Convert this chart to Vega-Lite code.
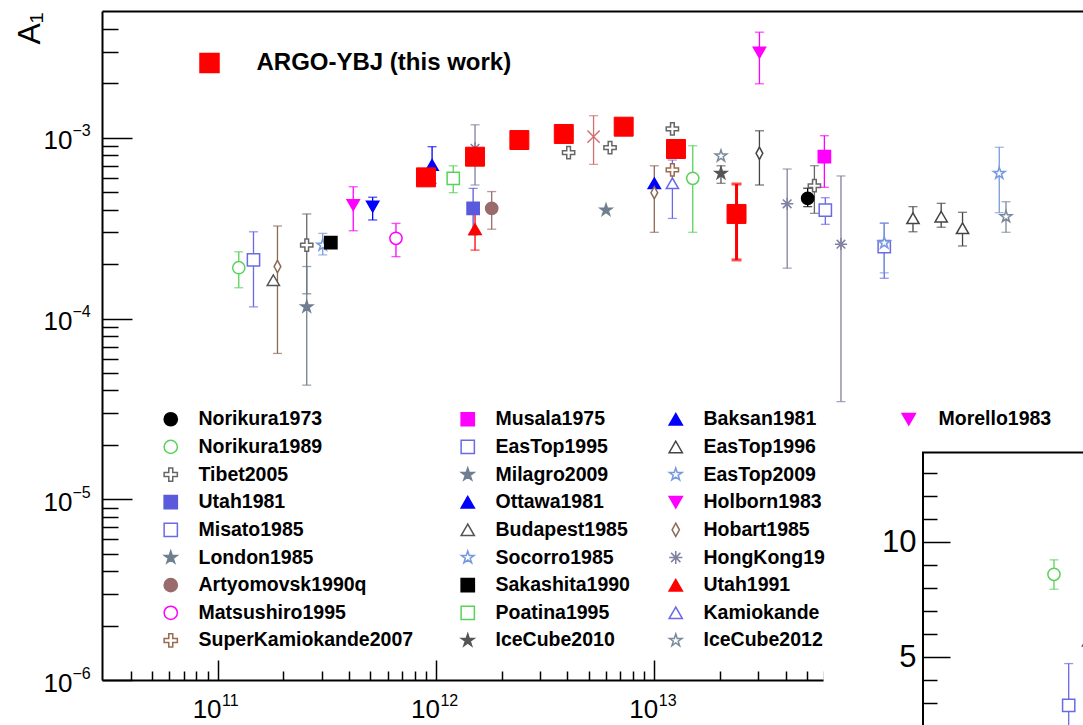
{
  "$schema": "https://vega.github.io/schema/vega-lite/v6.json",
  "width": 981,
  "height": 669,
  "autosize": {"type": "none"},
  "padding": {"left": 102, "top": 11, "right": 0, "bottom": 45},
  "background": "white",
  "config": {
    "view": {"stroke": null},
    "font": "Liberation Sans",
    "axis": {"grid": false, "labelColor": "#000", "tickColor": "#000", "domainColor": "#000", "labelFont": "Liberation Sans", "labelFlush": false, "labelOverlap": false, "labelBound": false},
    "legend": {"labelFont": "Liberation Sans", "labelColor": "#000", "symbolStrokeWidth": 1.5, "padding": 0}
  },
  "datasets": {
    "main": [
      {"exp": "ARGO-YBJ (this work)", "E": 9.0e11, "A": 6.04e-4},
      {"exp": "ARGO-YBJ (this work)", "E": 1.51e12, "A": 7.86e-4},
      {"exp": "ARGO-YBJ (this work)", "E": 2.41e12, "A": 9.72e-4},
      {"exp": "ARGO-YBJ (this work)", "E": 3.85e12, "A": 1.05e-3},
      {"exp": "ARGO-YBJ (this work)", "E": 7.24e12, "A": 1.152e-3},
      {"exp": "ARGO-YBJ (this work)", "E": 1.257e13, "A": 8.67e-4},
      {"exp": "ARGO-YBJ (this work)", "E": 2.38e13, "A": 3.79e-4, "lo": 2.11e-4, "hi": 5.55e-4},
      {"exp": "Norikura1973", "E": 5.04e13, "A": 4.62e-4, "lo": 4.16e-4, "hi": 5.26e-4},
      {"exp": "Norikura1989", "E": 1.25e11, "A": 1.91e-4, "lo": 1.48e-4, "hi": 2.34e-4},
      {"exp": "Norikura1989", "E": 1.5e13, "A": 5.97e-4, "lo": 3.0e-4, "hi": 9.04e-4},
      {"exp": "Tibet2005", "E": 2.56e11, "A": 2.55e-4, "lo": 1.37e-4, "hi": 3.79e-4},
      {"exp": "Tibet2005", "E": 4.05e12, "A": 8.27e-4},
      {"exp": "Tibet2005", "E": 6.27e12, "A": 8.82e-4},
      {"exp": "Tibet2005", "E": 1.21e13, "A": 1.12e-3},
      {"exp": "Tibet2005", "E": 5.41e13, "A": 5.43e-4, "lo": 3.82e-4, "hi": 7.01e-4},
      {"exp": "Utah1981", "E": 1.48e12, "A": 4.07e-4, "lo": 2.9e-4, "hi": 5.25e-4},
      {"exp": "Misato1985", "E": 1.46e11, "A": 2.11e-4, "lo": 1.16e-4, "hi": 3.02e-4},
      {"exp": "London1985", "E": 2.56e11, "A": 1.16e-4, "lo": 4.28e-5, "hi": 1.94e-4},
      {"exp": "Artyomovsk1990q", "E": 1.8e12, "A": 4.07e-4, "lo": 3.12e-4, "hi": 5.04e-4},
      {"exp": "Matsushiro1995", "E": 6.56e11, "A": 2.78e-4, "lo": 2.2e-4, "hi": 3.36e-4},
      {"exp": "SuperKamiokande2007", "E": 1.21e13, "A": 6.64e-4},
      {"exp": "Musala1975", "E": 6.01e13, "A": 7.86e-4, "lo": 5.32e-4, "hi": 1.027e-3},
      {"exp": "EasTop1995", "E": 6.07e13, "A": 3.98e-4, "lo": 3.32e-4, "hi": 4.66e-4},
      {"exp": "EasTop1995", "E": 1.13e14, "A": 2.5e-4, "lo": 1.67e-4, "hi": 3.37e-4},
      {"exp": "Milagro2009", "E": 6.01e12, "A": 3.98e-4},
      {"exp": "Ottawa1981", "E": 9.6e11, "A": 7.07e-4, "lo": 5.6e-4, "hi": 8.93e-4},
      {"exp": "Budapest1985", "E": 1.8e11, "A": 1.63e-4},
      {"exp": "Socorro1985", "E": 3.03e11, "A": 2.55e-4, "lo": 2.25e-4, "hi": 2.96e-4},
      {"exp": "Sakashita1990", "E": 3.3e11, "A": 2.63e-4},
      {"exp": "Poatina1995", "E": 1.2e12, "A": 5.97e-4, "lo": 4.97e-4, "hi": 7.0e-4},
      {"exp": "IceCube2010", "E": 2.02e13, "A": 6.36e-4, "lo": 5.6e-4, "hi": 7.0e-4},
      {"exp": "Baksan1981", "E": 1.0e13, "A": 5.6e-4},
      {"exp": "EasTop1996", "E": 1.53e14, "A": 3.59e-4, "lo": 3.02e-4, "hi": 4.16e-4},
      {"exp": "EasTop1996", "E": 2.06e14, "A": 3.66e-4, "lo": 3.2e-4, "hi": 4.34e-4},
      {"exp": "EasTop1996", "E": 2.58e14, "A": 3.16e-4, "lo": 2.52e-4, "hi": 3.87e-4},
      {"exp": "EasTop2009", "E": 1.13e14, "A": 2.62e-4, "lo": 1.79e-4, "hi": 3.37e-4},
      {"exp": "EasTop2009", "E": 3.8e14, "A": 6.36e-4, "lo": 3.85e-4, "hi": 8.86e-4},
      {"exp": "Holborn1983", "E": 4.18e11, "A": 4.25e-4, "lo": 3.06e-4, "hi": 5.36e-4},
      {"exp": "Hobart1985", "E": 1.88e11, "A": 1.94e-4, "lo": 6.41e-5, "hi": 3.25e-4},
      {"exp": "Hobart1985", "E": 1.0e13, "A": 4.97e-4, "lo": 3.0e-4, "hi": 7.0e-4},
      {"exp": "HongKong1987", "E": 1.51e12, "A": 8.75e-4, "lo": 5.48e-4, "hi": 1.18e-3},
      {"exp": "HongKong1987", "E": 4.06e13, "A": 4.31e-4, "lo": 1.9e-4, "hi": 6.72e-4},
      {"exp": "HongKong1987", "E": 7.16e13, "A": 2.58e-4, "lo": 3.47e-5, "hi": 6.15e-4},
      {"exp": "Utah1991", "E": 1.51e12, "A": 3.12e-4, "lo": 2.39e-4, "hi": 3.98e-4},
      {"exp": "Kamiokande1997", "E": 1.21e13, "A": 5.6e-4, "lo": 3.58e-4, "hi": 7.53e-4},
      {"exp": "IceCube2012", "E": 2.02e13, "A": 7.93e-4},
      {"exp": "IceCube2012", "E": 4.08e14, "A": 3.66e-4, "lo": 3.0e-4, "hi": 4.43e-4},
      {"exp": "Morello1983", "E": 3.03e13, "A": 2.96e-3, "lo": 1.99e-3, "hi": 3.84e-3},
      {"exp": "Banahaw1986", "E": 5.27e12, "A": 1.014e-3, "lo": 7.13e-4, "hi": 1.325e-3},
      {"exp": "Bolivia1985", "E": 5.13e11, "A": 4.16e-4, "lo": 3.51e-4, "hi": 4.69e-4},
      {"exp": "Liapootah1995", "E": 3.03e13, "A": 8.21e-4, "lo": 5.48e-4, "hi": 1.094e-3}
    ],
    "inset": [
      {"exp": "Norikura1989", "E": 1.25e11, "V": 8.59, "lo": 7.94, "hi": 9.22},
      {"exp": "Misato1985", "E": 1.46e11, "V": 2.88, "lo": 1.0, "hi": 4.7},
      {"exp": "Budapest1985", "E": 1.8e11, "V": 5.7}
    ]
  },
  "layer": [
    {
      "data": {"name": "main"},
      "layer": [
        {
          "transform": [{"filter": "isValid(datum.hi) && datum.exp != 'ARGO-YBJ (this work)'"}],
          "mark": {"type": "errorbar", "ticks": true, "size": 9, "thickness": 1.3},
          "encoding": {
            "x": {"field": "E", "type": "quantitative", "scale": {"type": "log", "domain": [2.955e10, 9.19e14], "nice": false},
              "axis": {"orient": "bottom", "values": [1e11, 1e12, 1e13, 1e14], "tickSize": -20, "tickWidth": 1.5, "domainWidth": 2, "labels": false, "title": null, "zindex": 0}},
            "y": {"field": "lo", "type": "quantitative", "scale": {"type": "log", "domain": [1e-6, 5.03e-3], "nice": false},
              "axis": {"orient": "left", "values": [1e-6, 1e-5, 1e-4, 1e-3], "tickSize": -30, "tickWidth": 1.5, "domainWidth": 2, "labels": false, "zindex": 0,
                "title": "A₁", "titleFont": "Liberation Sans", "titleFontSize": 32, "titleFontWeight": "normal", "titleColor": "#000", "titleAngle": 270, "titleX": -73, "titleY": 17, "titleAlign": "center", "titleBaseline": "middle"}},
            "y2": {"field": "hi"},
            "color": {"field": "exp", "type": "nominal", "legend": null,
              "scale": {
                "domain": ["Norikura1973", "Norikura1989", "Tibet2005", "Utah1981", "Misato1985", "London1985", "Artyomovsk1990q", "Matsushiro1995", "SuperKamiokande2007", "Musala1975", "EasTop1995", "Milagro2009", "Ottawa1981", "Budapest1985", "Socorro1985", "Sakashita1990", "Poatina1995", "IceCube2010", "Baksan1981", "EasTop1996", "EasTop2009", "Holborn1983", "Hobart1985", "HongKong1987", "Utah1991", "Kamiokande1997", "IceCube2012", "Morello1983", "Banahaw1986", "Bolivia1985", "Liapootah1995"],
                "range": ["#000000", "#5ad25a", "#666666", "#5a5adc", "#6a6ae6", "#6f7f8f", "#9a6b6b", "#ff00ff", "#9a6a50", "#ff00ff", "#6a6ae6", "#6f7f8f", "#0000ff", "#555555", "#7799dd", "#000000", "#5ad25a", "#555555", "#0000ff", "#444444", "#7799dd", "#ff00ff", "#8b6a55", "#8080a0", "#ff0000", "#6a6ae6", "#7a8a9a", "#ff00ff", "#d07070", "#0000ff", "#444444"]}}
          }
        },
        {
          "transform": [{"filter": {"field": "exp", "oneOf": ["Norikura1973", "Norikura1989", "Tibet2005", "Utah1981", "Misato1985", "London1985", "Artyomovsk1990q", "Matsushiro1995", "SuperKamiokande2007"]}}],
          "mark": {"type": "point", "size": 150, "strokeWidth": 1.5, "opacity": 1},
          "encoding": {
            "x": {"field": "E", "type": "quantitative", "scale": {"type": "log", "domain": [2.955e10, 9.19e14], "nice": false},
              "axis": {"orient": "bottom", "values": [1e11, 1e12, 1e13, 1e14], "ticks": false, "domain": false, "labelExpr": "'10'", "labelFontSize": 26, "labelOffset": -11, "labelPadding": 16, "title": null, "zindex": 0}},
            "y": {"field": "A", "type": "quantitative", "scale": {"type": "log", "domain": [1e-6, 5.03e-3], "nice": false},
              "axis": {"orient": "left", "values": [1e-6, 1e-5, 1e-4, 1e-3], "ticks": false, "domain": false, "labelExpr": "'10'", "labelFontSize": 26, "labelAlign": "right", "labelBaseline": "middle", "labelPadding": 30, "labelOffset": 3, "title": null, "zindex": 0}},
            "shape": {"field": "exp", "type": "nominal",
              "scale": {"domain": ["Norikura1973", "Norikura1989", "Tibet2005", "Utah1981", "Misato1985", "London1985", "Artyomovsk1990q", "Matsushiro1995", "SuperKamiokande2007"],
                "range": ["circle", "circle", "M-0.3,-1H0.3V-0.3H1V0.3H0.3V1H-0.3V0.3H-1V-0.3H-0.3Z", "square", "square", "M0,-1L0.2245,-0.309L0.951,-0.309L0.363,0.118L0.588,0.809L0,0.382L-0.588,0.809L-0.363,0.118L-0.951,-0.309L-0.2245,-0.309Z", "circle", "circle", "M-0.3,-1H0.3V-0.3H1V0.3H0.3V1H-0.3V0.3H-1V-0.3H-0.3Z"]},
              "legend": {"orient": "none", "legendX": 59, "legendY": 398.5, "title": null, "direction": "vertical", "labelFontSize": 19.5, "labelFontWeight": "bold", "labelOffset": 18, "symbolSize": 175, "rowPadding": 6.65, "padding": 0, "labelLimit": 500}},
            "stroke": {"field": "exp", "type": "nominal",
              "scale": {"domain": ["Norikura1973", "Norikura1989", "Tibet2005", "Utah1981", "Misato1985", "London1985", "Artyomovsk1990q", "Matsushiro1995", "SuperKamiokande2007"],
                "range": ["#000000", "#5ad25a", "#666666", "#5a5adc", "#6a6ae6", "#6f7f8f", "#9a6b6b", "#ff00ff", "#9a6a50"]},
              "legend": {"orient": "none", "legendX": 59, "legendY": 398.5, "title": null, "direction": "vertical", "labelFontSize": 19.5, "labelFontWeight": "bold", "labelOffset": 18, "symbolSize": 175, "rowPadding": 6.65, "padding": 0, "labelLimit": 500}},
            "fill": {"field": "exp", "type": "nominal",
              "scale": {"domain": ["Norikura1973", "Norikura1989", "Tibet2005", "Utah1981", "Misato1985", "London1985", "Artyomovsk1990q", "Matsushiro1995", "SuperKamiokande2007"],
                "range": ["#000000", "#ffffff", "#ffffff", "#5a5adc", "#ffffff", "#6f7f8f", "#9a6b6b", "#ffffff", "#ffffff"]},
              "legend": {"orient": "none", "legendX": 59, "legendY": 398.5, "title": null, "direction": "vertical", "labelFontSize": 19.5, "labelFontWeight": "bold", "labelOffset": 18, "symbolSize": 175, "rowPadding": 6.65, "padding": 0, "labelLimit": 500}}
          }
        },
        {
          "transform": [{"filter": {"field": "exp", "oneOf": ["Musala1975", "EasTop1995", "Milagro2009", "Ottawa1981", "Budapest1985", "Socorro1985", "Sakashita1990", "Poatina1995", "IceCube2010"]}}],
          "mark": {"type": "point", "size": 150, "strokeWidth": 1.5, "opacity": 1},
          "encoding": {
            "x": {"field": "E", "type": "quantitative", "scale": {"type": "log", "domain": [2.955e10, 9.19e14], "nice": false},
              "axis": {"orient": "bottom", "values": [1e11, 1e12, 1e13, 1e14], "ticks": false, "domain": false, "labelExpr": "format(round(log(datum.value)/LN10),'d')", "labelFontSize": 16, "labelAlign": "left", "labelOffset": 4, "labelPadding": 12, "title": null, "zindex": 0}},
            "y": {"field": "A", "type": "quantitative", "scale": {"type": "log", "domain": [1e-6, 5.03e-3], "nice": false},
              "axis": {"orient": "left", "values": [1e-6, 1e-5, 1e-4, 1e-3], "ticks": false, "domain": false, "labelExpr": "'−' + format(-round(log(datum.value)/LN10),'d')", "labelFontSize": 16, "labelAlign": "left", "labelBaseline": "middle", "labelPadding": 30, "labelOffset": -7, "title": null, "zindex": 0}},
            "shape": {"field": "exp", "type": "nominal",
              "scale": {"domain": ["Musala1975", "EasTop1995", "Milagro2009", "Ottawa1981", "Budapest1985", "Socorro1985", "Sakashita1990", "Poatina1995", "IceCube2010"],
                "range": ["square", "square", "M0,-1L0.2245,-0.309L0.951,-0.309L0.363,0.118L0.588,0.809L0,0.382L-0.588,0.809L-0.363,0.118L-0.951,-0.309L-0.2245,-0.309Z", "triangle-up", "triangle-up", "M0,-1L0.2245,-0.309L0.951,-0.309L0.363,0.118L0.588,0.809L0,0.382L-0.588,0.809L-0.363,0.118L-0.951,-0.309L-0.2245,-0.309Z", "square", "square", "M0,-1L0.2245,-0.309L0.951,-0.309L0.363,0.118L0.588,0.809L0,0.382L-0.588,0.809L-0.363,0.118L-0.951,-0.309L-0.2245,-0.309Z"]},
              "legend": {"orient": "none", "legendX": 356, "legendY": 398.5, "title": null, "direction": "vertical", "labelFontSize": 19.5, "labelFontWeight": "bold", "labelOffset": 18, "symbolSize": 175, "rowPadding": 6.65, "padding": 0, "labelLimit": 500}},
            "stroke": {"field": "exp", "type": "nominal",
              "scale": {"domain": ["Musala1975", "EasTop1995", "Milagro2009", "Ottawa1981", "Budapest1985", "Socorro1985", "Sakashita1990", "Poatina1995", "IceCube2010"],
                "range": ["#ff00ff", "#6a6ae6", "#6f7f8f", "#0000ff", "#555555", "#7799dd", "#000000", "#5ad25a", "#555555"]},
              "legend": {"orient": "none", "legendX": 356, "legendY": 398.5, "title": null, "direction": "vertical", "labelFontSize": 19.5, "labelFontWeight": "bold", "labelOffset": 18, "symbolSize": 175, "rowPadding": 6.65, "padding": 0, "labelLimit": 500}},
            "fill": {"field": "exp", "type": "nominal",
              "scale": {"domain": ["Musala1975", "EasTop1995", "Milagro2009", "Ottawa1981", "Budapest1985", "Socorro1985", "Sakashita1990", "Poatina1995", "IceCube2010"],
                "range": ["#ff00ff", "#ffffff", "#6f7f8f", "#0000ff", "#ffffff", "#ffffff", "#000000", "#ffffff", "#555555"]},
              "legend": {"orient": "none", "legendX": 356, "legendY": 398.5, "title": null, "direction": "vertical", "labelFontSize": 19.5, "labelFontWeight": "bold", "labelOffset": 18, "symbolSize": 175, "rowPadding": 6.65, "padding": 0, "labelLimit": 500}}
          }
        },
        {
          "transform": [{"filter": {"field": "exp", "oneOf": ["Baksan1981", "EasTop1996", "EasTop2009", "Holborn1983", "Hobart1985", "HongKong1987", "Utah1991", "Kamiokande1997", "IceCube2012"]}}],
          "mark": {"type": "point", "size": 150, "strokeWidth": 1.5, "opacity": 1},
          "encoding": {
            "x": {"field": "E", "type": "quantitative", "scale": {"type": "log", "domain": [2.955e10, 9.19e14], "nice": false},
              "axis": {"orient": "bottom", "values": [4e10, 5e10, 6e10, 7e10, 8e10, 9e10, 2e11, 3e11, 4e11, 5e11, 6e11, 7e11, 8e11, 9e11, 2e12, 3e12, 4e12, 5e12, 6e12, 7e12, 8e12, 9e12, 2e13, 3e13, 4e13, 5e13, 6e13, 7e13, 8e13, 9e13, 2e14, 3e14, 4e14, 5e14, 6e14, 7e14, 8e14, 9e14], "tickSize": -9, "tickWidth": 1.5, "domain": false, "labels": false, "title": null, "zindex": 0}},
            "y": {"field": "A", "type": "quantitative", "scale": {"type": "log", "domain": [1e-6, 5.03e-3], "nice": false},
              "axis": {"orient": "left", "values": [2e-6, 3e-6, 4e-6, 5e-6, 6e-6, 7e-6, 8e-6, 9e-6, 2e-5, 3e-5, 4e-5, 5e-5, 6e-5, 7e-5, 8e-5, 9e-5, 2e-4, 3e-4, 4e-4, 5e-4, 6e-4, 7e-4, 8e-4, 9e-4, 2e-3, 3e-3, 4e-3], "tickSize": -16, "tickWidth": 1.5, "domain": false, "labels": false, "title": null, "zindex": 0}},
            "shape": {"field": "exp", "type": "nominal",
              "scale": {"domain": ["Baksan1981", "EasTop1996", "EasTop2009", "Holborn1983", "Hobart1985", "HongKong1987", "Utah1991", "Kamiokande1997", "IceCube2012"],
                "range": ["triangle-up", "triangle-up", "M0,-1L0.2245,-0.309L0.951,-0.309L0.363,0.118L0.588,0.809L0,0.382L-0.588,0.809L-0.363,0.118L-0.951,-0.309L-0.2245,-0.309Z", "triangle-down", "M0,-1L0.55,0L0,1L-0.55,0Z", "M-1,0L1,0M0,-1L0,1M-0.7,-0.7L0.7,0.7M-0.7,0.7L0.7,-0.7", "triangle-up", "triangle-up", "M0,-1L0.2245,-0.309L0.951,-0.309L0.363,0.118L0.588,0.809L0,0.382L-0.588,0.809L-0.363,0.118L-0.951,-0.309L-0.2245,-0.309Z"]},
              "legend": {"orient": "none", "legendX": 564, "legendY": 398.5, "title": null, "direction": "vertical", "labelFontSize": 19.5, "labelFontWeight": "bold", "labelOffset": 18, "symbolSize": 175, "rowPadding": 6.65, "padding": 0, "labelLimit": 500, "labelExpr": "datum.label == 'HongKong1987' ? 'HongKong19' : datum.label == 'Kamiokande1997' ? 'Kamiokande' : datum.label"}},
            "stroke": {"field": "exp", "type": "nominal",
              "scale": {"domain": ["Baksan1981", "EasTop1996", "EasTop2009", "Holborn1983", "Hobart1985", "HongKong1987", "Utah1991", "Kamiokande1997", "IceCube2012"],
                "range": ["#0000ff", "#444444", "#7799dd", "#ff00ff", "#8b6a55", "#8080a0", "#ff0000", "#6a6ae6", "#7a8a9a"]},
              "legend": {"orient": "none", "legendX": 564, "legendY": 398.5, "title": null, "direction": "vertical", "labelFontSize": 19.5, "labelFontWeight": "bold", "labelOffset": 18, "symbolSize": 175, "rowPadding": 6.65, "padding": 0, "labelLimit": 500, "labelExpr": "datum.label == 'HongKong1987' ? 'HongKong19' : datum.label == 'Kamiokande1997' ? 'Kamiokande' : datum.label"}},
            "fill": {"field": "exp", "type": "nominal",
              "scale": {"domain": ["Baksan1981", "EasTop1996", "EasTop2009", "Holborn1983", "Hobart1985", "HongKong1987", "Utah1991", "Kamiokande1997", "IceCube2012"],
                "range": ["#0000ff", "#ffffff", "#ffffff", "#ff00ff", "#ffffff", "#8080a0", "#ff0000", "#ffffff", "#ffffff"]},
              "legend": {"orient": "none", "legendX": 564, "legendY": 398.5, "title": null, "direction": "vertical", "labelFontSize": 19.5, "labelFontWeight": "bold", "labelOffset": 18, "symbolSize": 175, "rowPadding": 6.65, "padding": 0, "labelLimit": 500, "labelExpr": "datum.label == 'HongKong1987' ? 'HongKong19' : datum.label == 'Kamiokande1997' ? 'Kamiokande' : datum.label"}}
          }
        },
        {
          "transform": [{"filter": {"field": "exp", "oneOf": ["Morello1983"]}}],
          "mark": {"type": "point", "size": 150, "strokeWidth": 1.5, "opacity": 1},
          "encoding": {
            "x": {"field": "E", "type": "quantitative", "scale": {"type": "log", "domain": [2.955e10, 9.19e14], "nice": false},
              "axis": {"orient": "top", "ticks": false, "labels": false, "domain": true, "domainWidth": 2, "title": null, "zindex": 0}},
            "y": {"field": "A", "type": "quantitative", "scale": {"type": "log", "domain": [1e-6, 5.03e-3], "nice": false}, "axis": null},
            "shape": {"field": "exp", "type": "nominal", "scale": {"domain": ["Morello1983"], "range": ["triangle-down"]},
              "legend": {"orient": "none", "legendX": 797, "legendY": 398.5, "title": null, "direction": "vertical", "labelFontSize": 19.5, "labelFontWeight": "bold", "labelOffset": 20, "symbolSize": 175, "padding": 0, "labelLimit": 500}},
            "stroke": {"field": "exp", "type": "nominal", "scale": {"domain": ["Morello1983"], "range": ["#ff00ff"]},
              "legend": {"orient": "none", "legendX": 797, "legendY": 398.5, "title": null, "direction": "vertical", "labelFontSize": 19.5, "labelFontWeight": "bold", "labelOffset": 20, "symbolSize": 175, "padding": 0, "labelLimit": 500}},
            "fill": {"field": "exp", "type": "nominal", "scale": {"domain": ["Morello1983"], "range": ["#ff00ff"]},
              "legend": {"orient": "none", "legendX": 797, "legendY": 398.5, "title": null, "direction": "vertical", "labelFontSize": 19.5, "labelFontWeight": "bold", "labelOffset": 20, "symbolSize": 175, "padding": 0, "labelLimit": 500}}
          }
        },
        {
          "transform": [{"filter": {"field": "exp", "oneOf": ["Banahaw1986", "Bolivia1985", "Liapootah1995"]}}],
          "mark": {"type": "point", "size": 150, "strokeWidth": 1.5, "opacity": 1},
          "encoding": {
            "x": {"field": "E", "type": "quantitative", "scale": {"type": "log", "domain": [2.955e10, 9.19e14], "nice": false}, "axis": null},
            "y": {"field": "A", "type": "quantitative", "scale": {"type": "log", "domain": [1e-6, 5.03e-3], "nice": false}, "axis": null},
            "shape": {"field": "exp", "type": "nominal", "scale": {"domain": ["Banahaw1986", "Bolivia1985", "Liapootah1995"], "range": ["M-1,-1L1,1M-1,1L1,-1", "triangle-down", "M0,-1L0.55,0L0,1L-0.55,0Z"]}, "legend": null},
            "stroke": {"field": "exp", "type": "nominal", "scale": {"domain": ["Banahaw1986", "Bolivia1985", "Liapootah1995"], "range": ["#d07070", "#0000ff", "#444444"]}, "legend": null},
            "fill": {"field": "exp", "type": "nominal", "scale": {"domain": ["Banahaw1986", "Bolivia1985", "Liapootah1995"], "range": ["#d07070", "#0000ff", "#ffffff"]}, "legend": null}
          }
        },
        {
          "transform": [{"filter": "isValid(datum.hi) && datum.exp == 'ARGO-YBJ (this work)'"}],
          "mark": {"type": "errorbar", "ticks": true, "size": 10, "thickness": 3, "color": "#ff0000"},
          "encoding": {
            "x": {"field": "E", "type": "quantitative", "scale": {"type": "log", "domain": [2.955e10, 9.19e14], "nice": false}, "axis": null},
            "y": {"field": "lo", "type": "quantitative", "scale": {"type": "log", "domain": [1e-6, 5.03e-3], "nice": false}, "axis": null},
            "y2": {"field": "hi"}
          }
        },
        {
          "transform": [{"filter": {"field": "exp", "oneOf": ["ARGO-YBJ (this work)"]}}],
          "mark": {"type": "point", "size": 360, "strokeWidth": 1, "opacity": 1},
          "encoding": {
            "x": {"field": "E", "type": "quantitative", "scale": {"type": "log", "domain": [2.955e10, 9.19e14], "nice": false}, "axis": null},
            "y": {"field": "A", "type": "quantitative", "scale": {"type": "log", "domain": [1e-6, 5.03e-3], "nice": false}, "axis": null},
            "shape": {"field": "exp", "type": "nominal", "scale": {"domain": ["ARGO-YBJ (this work)"], "range": ["square"]},
              "legend": {"orient": "none", "legendX": 95.5, "legendY": 40, "title": null, "labelFontSize": 24, "labelFontWeight": "bold", "labelOffset": 35, "symbolSize": 361, "padding": 0, "labelLimit": 600}},
            "stroke": {"field": "exp", "type": "nominal", "scale": {"domain": ["ARGO-YBJ (this work)"], "range": ["#ff0000"]},
              "legend": {"orient": "none", "legendX": 95.5, "legendY": 40, "title": null, "labelFontSize": 24, "labelFontWeight": "bold", "labelOffset": 35, "symbolSize": 361, "padding": 0, "labelLimit": 600}},
            "fill": {"field": "exp", "type": "nominal", "scale": {"domain": ["ARGO-YBJ (this work)"], "range": ["#ff0000"]},
              "legend": {"orient": "none", "legendX": 95.5, "legendY": 40, "title": null, "labelFontSize": 24, "labelFontWeight": "bold", "labelOffset": 35, "symbolSize": 361, "padding": 0, "labelLimit": 600}}
          }
        }
      ],
      "resolve": {
        "scale": {"shape": "independent", "stroke": "independent", "fill": "independent", "color": "independent"},
        "axis": {"x": "independent", "y": "independent"}
      }
    },
    {
      "data": {"name": "inset"},
      "layer": [
        {
          "data": {"values": [{}]},
          "mark": {"type": "rect", "fill": "white", "strokeWidth": 0},
          "encoding": {
            "x": {"datum": 1.1e10, "type": "quantitative", "scale": {"type": "log", "domain": [3.14e10, 1e15], "range": [821, 1804], "nice": false}, "axis": null},
            "x2": {"datum": 1e15},
            "y": {"datum": 14.8, "type": "quantitative", "scale": {"type": "linear", "domain": [0, 13.9], "range": [760.4, 441.5], "nice": false, "zero": false},
              "axis": {"orient": "left", "offset": -821, "values": [5, 10], "tickSize": -27, "tickWidth": 1.5, "domain": false, "labels": false, "title": null, "zindex": 1}},
            "y2": {"datum": -10}
          }
        },
        {
          "data": {"values": [{}]},
          "mark": {"type": "rect", "fill": "white", "stroke": "#000", "strokeWidth": 2},
          "encoding": {
            "x": {"datum": 3.14e10, "type": "quantitative", "scale": {"type": "log", "domain": [3.14e10, 1e15], "range": [821, 1804], "nice": false}, "axis": null},
            "x2": {"datum": 1e15},
            "y": {"datum": 13.9, "type": "quantitative", "scale": {"type": "linear", "domain": [0, 13.9], "range": [760.4, 441.5], "nice": false, "zero": false},
              "axis": {"orient": "left", "offset": -821, "values": [5, 10], "ticks": false, "domain": false, "labelFontSize": 31, "labelAlign": "right", "labelBaseline": "middle", "labelPadding": 7, "labelOffset": 1, "title": null, "zindex": 1}},
            "y2": {"datum": -10}
          }
        },
        {
          "transform": [{"filter": "isValid(datum.hi)"}],
          "mark": {"type": "errorbar", "ticks": true, "size": 9, "thickness": 1.3},
          "encoding": {
            "x": {"field": "E", "type": "quantitative", "scale": {"type": "log", "domain": [3.14e10, 1e15], "range": [821, 1804], "nice": false}, "axis": null},
            "y": {"field": "lo", "type": "quantitative", "scale": {"type": "linear", "domain": [0, 13.9], "range": [760.4, 441.5], "nice": false, "zero": false},
              "axis": {"orient": "left", "offset": -821, "values": [1, 2, 3, 4, 6, 7, 8, 9, 11, 12, 13], "tickSize": -14, "tickWidth": 1.5, "domain": false, "labels": false, "title": null, "zindex": 1}},
            "y2": {"field": "hi"},
            "color": {"field": "exp", "type": "nominal", "legend": null, "scale": {"domain": ["Norikura1989", "Misato1985", "Budapest1985"], "range": ["#5ad25a", "#6a6ae6", "#555555"]}}
          }
        },
        {
          "mark": {"type": "point", "size": 150, "strokeWidth": 1.5, "opacity": 1},
          "encoding": {
            "x": {"field": "E", "type": "quantitative", "scale": {"type": "log", "domain": [3.14e10, 1e15], "range": [821, 1804], "nice": false}, "axis": null},
            "y": {"field": "V", "type": "quantitative", "scale": {"type": "linear", "domain": [0, 13.9], "range": [760.4, 441.5], "nice": false, "zero": false}, "axis": null},
            "shape": {"field": "exp", "type": "nominal", "scale": {"domain": ["Norikura1989", "Misato1985", "Budapest1985"], "range": ["circle", "square", "triangle-up"]}, "legend": null},
            "stroke": {"field": "exp", "type": "nominal", "scale": {"domain": ["Norikura1989", "Misato1985", "Budapest1985"], "range": ["#5ad25a", "#6a6ae6", "#555555"]}, "legend": null},
            "fill": {"field": "exp", "type": "nominal", "scale": {"domain": ["Norikura1989", "Misato1985", "Budapest1985"], "range": ["#ffffff", "#ffffff", "#ffffff"]}, "legend": null}
          }
        }
      ],
      "resolve": {"axis": {"x": "independent", "y": "independent"}}
    }
  ],
  "resolve": {
    "scale": {"x": "independent", "y": "independent", "color": "independent", "shape": "independent", "stroke": "independent", "fill": "independent"},
    "axis": {"x": "independent", "y": "independent"}
  }
}
